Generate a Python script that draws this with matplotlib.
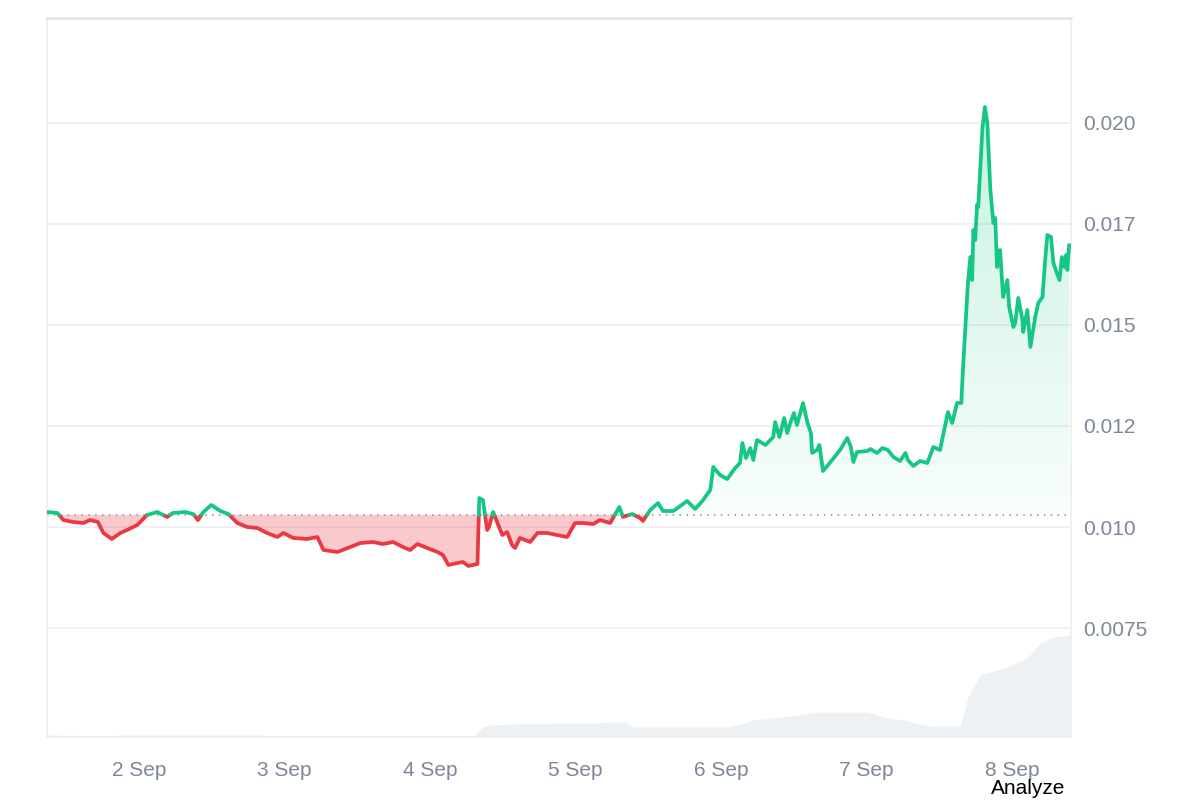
import numpy as np
import pandas as pd
import matplotlib
matplotlib.use("Agg")
import matplotlib.pyplot as plt
import matplotlib.dates as mdates
from matplotlib.path import Path
from matplotlib.ticker import FixedLocator, FixedFormatter

plt.rcParams["font.family"] = ["Liberation Sans", "DejaVu Sans"]

# ---- data (hours since 2024-09-01 00:00) ----
price_hours = [8.8, 10.5, 11.5, 13.1, 14.8, 15.9, 17.2, 18.1, 19.5, 20.9, 22.0, 23.7,
               25.3, 27.0, 28.6, 29.6, 31.6, 32.9, 33.7, 34.6, 35.9, 37.4, 38.7, 40.2,
               41.8, 43.5, 45.1, 46.8, 47.8, 49.4, 51.7, 53.4, 54.4, 56.7, 58.8, 60.5,
               62.6, 64.2, 65.9, 67.5, 68.7, 69.9, 71.5, 73.2, 74.1, 75.0, 76.5, 77.4,
               78.3, 79.8, 80.1, 80.7, 81.4, 81.7, 82.4, 83.1, 83.9, 84.7, 85.5, 86.0,
               86.8, 88.5, 89.7, 91.3, 92.9, 94.6, 95.9, 97.2, 98.9, 100.0, 101.7, 103.2,
               103.8, 105.3, 106.6, 107.1, 108.3, 109.6, 110.4, 112.1, 114.4, 115.7, 116.9,
               118.2, 118.7, 119.8, 121.0, 122.3, 123.1, 123.5, 124.1, 124.8, 125.3, 125.9,
               127.3, 128.6, 128.9, 129.6, 130.4, 130.9, 131.4, 132.0, 132.5, 133.5, 134.2,
               134.8, 135.0, 135.8, 136.2, 136.8, 138.3, 139.6, 140.8, 141.4, 141.8, 142.4,
               144.1, 144.6, 145.7, 146.6, 147.5, 148.4, 149.5, 150.4, 150.8, 151.7, 152.8,
               154.0, 155.0, 156.1, 157.4, 158.1, 158.9, 159.6, 159.9, 160.7, 161.1, 161.4,
               161.6, 161.9, 162.2, 162.4, 163.1, 163.5, 163.9, 164.4, 164.9, 165.2, 165.5,
               166.0, 166.5, 167.2, 167.5, 168.2, 168.5, 169.0, 169.7, 169.8, 170.5, 171.0,
               171.8, 172.3, 173.0, 173.4, 173.8, 174.4, 174.8, 175.3, 175.8, 176.2, 176.6,
               176.9, 177.1, 177.4]
price = [0.010371, 0.010347, 0.010173, 0.010124, 0.010099, 0.010173, 0.010124, 0.009852,
         0.009703, 0.009852, 0.009926, 0.010050, 0.010297, 0.010371, 0.010248, 0.010347,
         0.010371, 0.010322, 0.010173, 0.010371, 0.010545, 0.010396, 0.010322, 0.010099,
         0.010000, 0.009975, 0.009852, 0.009753, 0.009852, 0.009728, 0.009703, 0.009753,
         0.009431, 0.009381, 0.009505, 0.009604, 0.009629, 0.009579, 0.009629, 0.009505,
         0.009431, 0.009579, 0.009480, 0.009381, 0.009307, 0.009060, 0.009109, 0.009134,
         0.009035, 0.009084, 0.010718, 0.010668, 0.009926, 0.010000, 0.010371, 0.010099,
         0.009802, 0.009876, 0.009555, 0.009480, 0.009728, 0.009629, 0.009852, 0.009852,
         0.009802, 0.009753, 0.010099, 0.010099, 0.010074, 0.010173, 0.010099, 0.010495,
         0.010248, 0.010322, 0.010223, 0.010149, 0.010421, 0.010594, 0.010396, 0.010396,
         0.010644, 0.010446, 0.010644, 0.010916, 0.011485, 0.011287, 0.011188, 0.011460,
         0.011584, 0.012079, 0.011708, 0.011955, 0.011658, 0.012153, 0.012030, 0.012228,
         0.012599, 0.012228, 0.012698, 0.012327, 0.012574, 0.012822, 0.012525, 0.013069,
         0.012599, 0.012327, 0.011832, 0.011906, 0.012030, 0.011386, 0.011658, 0.011906,
         0.012203, 0.011980, 0.011609, 0.011856, 0.011881, 0.011931, 0.011832, 0.011955,
         0.011906, 0.011733, 0.011634, 0.011832, 0.011658, 0.011510, 0.011634, 0.011584,
         0.011980, 0.011906, 0.012846, 0.012574, 0.013069, 0.013069, 0.013960, 0.016039,
         0.016683, 0.016113, 0.017351, 0.017103, 0.017970, 0.017920, 0.019900, 0.020395,
         0.019999, 0.018341, 0.017524, 0.017648, 0.016435, 0.016856, 0.015693, 0.016113,
         0.015445, 0.014950, 0.015049, 0.015668, 0.015123, 0.014826, 0.015371, 0.014455,
         0.015198, 0.015544, 0.015693, 0.016534, 0.017227, 0.017178, 0.016534, 0.016311,
         0.016113, 0.016683, 0.016435, 0.016732, 0.016361, 0.016980]

volume_hours = [8.8, 14.3, 19.2, 20.9, 44.0, 45.6, 50.6, 73.6, 79.4, 80.6, 81.9, 85.2,
                93.4, 100.0, 100.9, 104.2, 105.3, 121.2, 123.1, 125.3, 131.4, 135.8,
                144.2, 146.7, 150.7, 154.5, 159.4, 160.7, 162.7, 167.2, 170.5, 172.6,
                174.8, 177.7]
volume = [20, 15, 10, 20, 20, 10, 10, 10, 15, 100, 120, 130, 140, 140, 150, 150, 100,
          100, 130, 170, 210, 250, 250, 200, 160, 110, 110, 400, 620, 700, 790, 940,
          1000, 1020]

baseline = 0.0103
day_ticks = ["2024-09-02", "2024-09-03", "2024-09-04", "2024-09-05",
             "2024-09-06", "2024-09-07", "2024-09-08"]
day_labels = ["2 Sep", "3 Sep", "4 Sep", "5 Sep", "6 Sep", "7 Sep", "8 Sep"]
y_ticks = [0.0075, 0.010, 0.0125, 0.015, 0.0175, 0.020]
y_labels = ["0.0075", "0.010", "0.012", "0.015", "0.017", "0.020"]

GREEN = "#16c784"
RED = "#ea3943"
LABEL = "#7d8799"

t0 = pd.Timestamp("2024-09-01")
def to_num(hours):
    return mdates.date2num(t0 + pd.to_timedelta(np.asarray(hours, float), unit="h"))

x = to_num(price_hours)
y = np.asarray(price)
xv = to_num(volume_hours)
yv = np.asarray(volume)

# insert crossing points with baseline
xs, ys = [x[0]], [y[0]]
for i in range(1, len(x)):
    a, b = y[i - 1] - baseline, y[i] - baseline
    if a * b < 0:
        f = a / (a - b)
        xs.append(x[i - 1] + f * (x[i] - x[i - 1]))
        ys.append(baseline)
    xs.append(x[i]); ys.append(y[i])
xs, ys = np.array(xs), np.array(ys)

fig = plt.figure(figsize=(12, 8), dpi=100)
fig.patch.set_facecolor("white")
pos = [47 / 1200, 1 - 737 / 800, (1071 - 47) / 1200, (737 - 18) / 800]

axv = fig.add_axes(pos, zorder=0)
ax = fig.add_axes(pos, zorder=1)
ax.patch.set_alpha(0)

xmin, xmax = to_num([8.8])[0], to_num([177.7])[0]

# volume
axv.fill_between(xv, 0, yv, color="#eef1f4", lw=0)
axv.set_xlim(xmin, xmax)
axv.set_ylim(0, 7190)
axv.axis("off")

# price
ymin_v, ymax_v = 0.0048025, 0.022598
ax.set_xlim(xmin, xmax)
ax.set_ylim(ymin_v, ymax_v)

above = ys >= baseline
below = ys <= baseline

# red fill
ax.fill_between(xs, ys, baseline, where=below, color=RED, alpha=0.27, lw=0, interpolate=True)

# green gradient fill
gpoly = ax.fill_between(xs, ys, baseline, where=above, color="none", lw=0, interpolate=True)
paths = gpoly.get_paths()
if paths:
    cpath = Path.make_compound_path(*paths)
    top = ys.max()
    n = 256
    grad = np.zeros((n, 1, 4))
    rgb = matplotlib.colors.to_rgb(GREEN)
    grad[:, 0, 0:3] = rgb
    grad[:, 0, 3] = np.linspace(0.24, 0.03, n)
    im = ax.imshow(grad, extent=[xmin, xmax, baseline, top], origin="upper",
                   aspect="auto", zorder=1, interpolation="bilinear")
    im.set_clip_path(cpath, transform=ax.transData)
    ax.set_xlim(xmin, xmax)
    ax.set_ylim(ymin_v, ymax_v)

ya = np.where(above, ys, np.nan)
yb = np.where(below, ys, np.nan)
ax.plot(xs, yb, color=RED, lw=2.7, zorder=3, solid_joinstyle="round", solid_capstyle="round")
ax.plot(xs, ya, color=GREEN, lw=2.7, zorder=3, solid_joinstyle="round", solid_capstyle="round")

ax.axhline(baseline, color="#8a8f98", lw=1.1, ls=(0, (1, 3.5)), zorder=2)

# axes styling
ax.yaxis.tick_right()
ax.yaxis.set_major_locator(FixedLocator(y_ticks))
ax.yaxis.set_major_formatter(FixedFormatter(y_labels))
ax.grid(axis="y", color="#eceef1", lw=1.2, zorder=0)
ax.set_axisbelow(True)
ax.set_xticks(to_num([(pd.Timestamp(d) - t0) / pd.Timedelta(hours=1) for d in day_ticks]))
ax.set_xticklabels(day_labels)
ax.tick_params(axis="both", length=0, labelsize=15, labelcolor=LABEL)
ax.tick_params(axis="x", pad=17)
ax.tick_params(axis="y", pad=9)
for s in ["left", "right"]:
    ax.spines[s].set_color("#eceef1")
    ax.spines[s].set_linewidth(1.2)
ax.spines["top"].set_color("#e2e4e8")
ax.spines["top"].set_linewidth(1.8)
ax.spines["bottom"].set_color("#eceef1")
ax.spines["bottom"].set_linewidth(1.2)

fig.text(1065 / 1200, 1 - 789 / 800, "Analyze", ha="right", va="center",
         fontsize=15, color="black")

fig.savefig("out.png", dpi=100)
